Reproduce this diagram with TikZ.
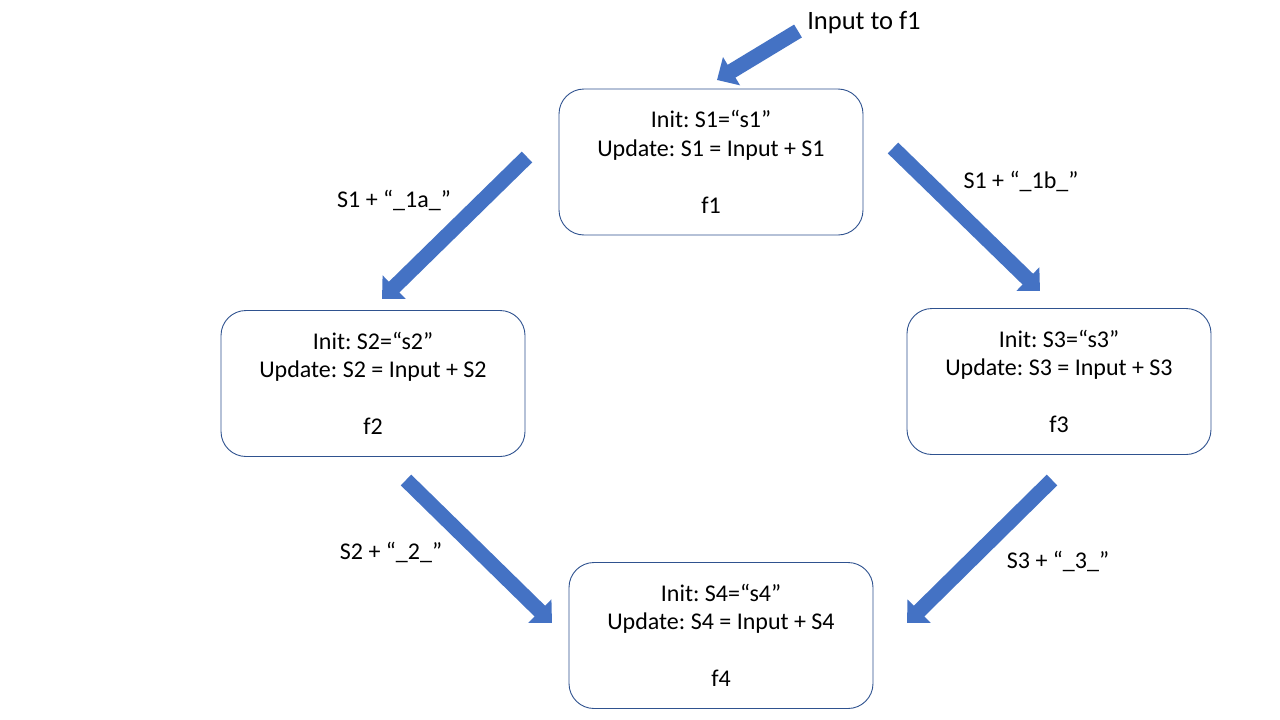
\documentclass[tikz,border=0pt]{standalone}
\usepackage{fontspec}
\setmainfont{Carlito}
\usetikzlibrary{arrows.meta}
\definecolor{arrowblue}{HTML}{4472C4}
\definecolor{boxblue}{HTML}{2F528F}
\frenchspacing
\tikzset{
  fbox/.style={draw=boxblue, line width=0.9pt, rounded corners=25pt, minimum width=304pt, minimum height=146pt, inner sep=0pt, align=center, font=\fontsize{24}{28.5}\selectfont},
  lbl/.style={inner sep=0pt, font=\fontsize{24}{28.5}\selectfont},
  blockarrow/.style={line width=15pt, draw=arrowblue, -{Triangle[width=32pt,length=17pt]}}
}
\begin{document}
\begin{tikzpicture}[x=1pt,y=-1pt]
\useasboundingbox (0,0) rectangle (1280,720);
\fill[white] (0,0) rectangle (1280,720);
% boxes
\node[fbox] (f1) at (711,162) {Init: S1=“s1”\\Update: S1 = Input + S1\\[28.5pt]f1};
\node[fbox] (f2) at (373,383.5) {Init: S2=“s2”\\Update: S2 = Input + S2\\[28.5pt]f2};
\node[fbox] (f3) at (1059,381.5) {Init: S3=“s3”\\Update: S3 = Input + S3\\[28.5pt]f3};
\node[fbox] (f4) at (721,635.5) {Init: S4=“s4”\\Update: S4 = Input + S4\\[28.5pt]f4};
% labels
\node[inner sep=0pt, font=\fontsize{26.5}{30}\selectfont] (in) at (864,23) {Input to f1};
\node[lbl] (l1) at (394,200) {S1 + “\_1a\_”};
\node[lbl] (l2) at (1021,181) {S1 + “\_1b\_”};
\node[lbl] (l3) at (391,552) {S2 + “\_2\_”};
\node[lbl] (l4) at (1058,561) {S3 + “\_3\_”};
% arrow end points
\coordinate (t0) at (798,31);   \coordinate (h0) at (717,80);
\coordinate (t1) at (527,157);  \coordinate (h1) at (382,299);
\coordinate (t2) at (893,148);  \coordinate (h2) at (1040,291);
\coordinate (t3) at (406,480);  \coordinate (h3) at (552,623);
\coordinate (t4) at (1052,480); \coordinate (h4) at (907,623);
\draw[blockarrow] (t0) -- (h0);
\draw[blockarrow] (t1) -- (h1);
\draw[blockarrow] (t2) -- (h2);
\draw[blockarrow] (t3) -- (h3);
\draw[blockarrow] (t4) -- (h4);
\end{tikzpicture}
\end{document}
